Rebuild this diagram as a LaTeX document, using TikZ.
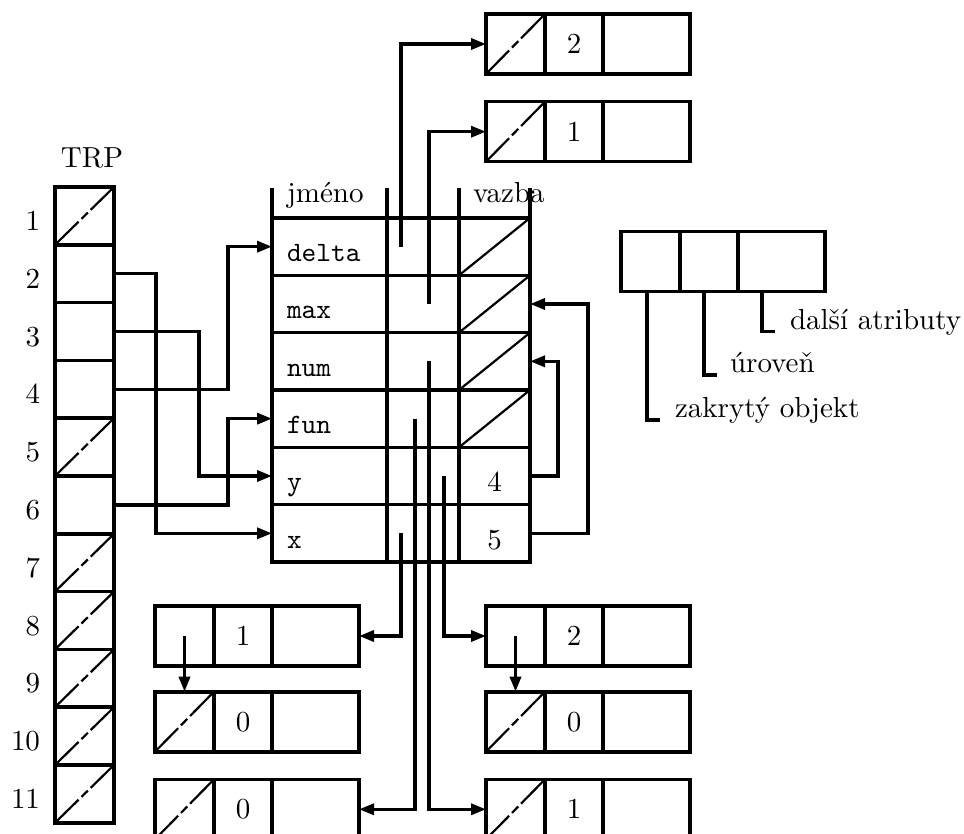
\documentclass[tikz,border=0pt]{standalone}
\usetikzlibrary{arrows.meta,calc}
\newcommand\rmtx[1]{\scalebox{2.9}{\fontsize{10}{12}\selectfont #1}}
\newcommand\tttx[1]{\scalebox{2.8}{\fontsize{10}{12}\selectfont\ttfamily #1}}
\tikzset{
  every node/.style={inner sep=0pt, outer sep=0pt},
  ttlabel/.style={anchor=base west},
  cellbox/.style={draw, line width=3.6pt, inner sep=0pt, outer sep=0pt, anchor=north west, minimum height=60pt},
  cwa/.style={cellbox, minimum width=59pt},
  cwb/.style={cellbox, minimum width=58pt},
  cwc/.style={cellbox, minimum width=87pt},
  trpcell/.style={cellbox, minimum width=59pt, minimum height=57.8pt},
  tca/.style={cellbox, minimum width=115pt, minimum height=57.33pt},
  tcb/.style={cellbox, minimum width=72pt, minimum height=57.33pt},
  tcc/.style={cellbox, minimum width=71pt, minimum height=57.33pt},
  conn/.style={line width=3.3pt, -{Triangle[length=15pt,width=11pt]}},
  plain/.style={line width=3.6pt},
  brokendiag/.style={line width=2.2pt, dash pattern=on 33pt off 4pt on 9pt off 4pt on 40pt},
  soliddiag/.style={line width=2.2pt},
}
\newcommand\recbox[5]{%
  \node[cwa] (#1a) at (#2,#3) {};
  \node[cwb] (#1b) at (#1a.north east) {\rmtx{#5}};
  \node[cwc] (#1c) at (#1b.north east) {};
  \ifnum#4=1 \draw[brokendiag] (#1a.south west) -- (#1a.north east);\fi
}
\begin{document}
\begin{tikzpicture}[x=1pt,y=-1pt]
\useasboundingbox (0,0) rectangle (964,834);

% TRP column
\node[anchor=base] (trplabel) at (92,168) {\rmtx{TRP}};
\foreach \i in {1,...,11} {
  \node[trpcell] (trp\i) at (55,{187+(\i-1)*57.8}) {};
  \node[anchor=base east] (trpn\i) at (40,{187+(\i-1)*57.8+28.9+14.5}) {\rmtx{\i}};
}
\foreach \i in {1,5,7,8,9,10,11}
  \draw[brokendiag] (trp\i.south west) -- (trp\i.north east);

% main table
\foreach \nm [count=\k] in {delta,max,num,fun,y,x} {
  \node[tca] (r\nm) at (272,{218+(\k-1)*57.33}) {};
  \node[tcb] (m\nm) at (r\nm.north east) {};
  \node[tcc] (v\nm) at (m\nm.north east) {};
  \node[ttlabel] (l\nm) at ($(r\nm.west)+(15,15)$) {\tttx{\nm}};
}
\foreach \nm in {delta,max,num,fun}
  \draw[soliddiag] (v\nm.south west) -- (v\nm.north east);
\node[anchor=base] (n4) at ($(vy.center)+(0,16)$) {\rmtx{4}};
\node[anchor=base] (n5) at ($(vx.center)+(0,16)$) {\rmtx{5}};
\draw[plain] (rdelta.north west) -- ++(0,-30);
\draw[plain] (mdelta.north west) -- ++(0,-30);
\draw[plain] (mdelta.north east) -- ++(0,-30);
\draw[plain] (vdelta.north east) -- ++(0,-30);
\node[anchor=base west] (hj) at (287,203) {\rmtx{jméno}};
\node[anchor=base west] (hv) at (473,203) {\rmtx{vazba}};

% record boxes
\recbox{tt}{486}{14}{1}{2}
\recbox{to}{486}{101.7}{1}{1}
\recbox{la}{155}{606}{0}{1}
\recbox{lb}{155}{691.7}{1}{0}
\recbox{lc}{155}{779.3}{1}{0}
\recbox{ra}{486}{606}{0}{2}
\recbox{rb}{486}{691.7}{1}{0}
\recbox{rc}{486}{779.3}{1}{1}

% TRP connectors
\draw[conn] (trp2.east) -- ++(42,0) |- (rx.west);
\draw[conn] (trp3.east) -- ++(85,0) |- (ry.west);
\draw[conn] (trp4.east) -- ++(114,0) |- (rdelta.west);
\draw[conn] (trp6.east) -- ++(114,0) |- (rfun.west);

% connectors from the middle column
\coordinate (sdelta) at ($(mdelta.center)+(-22,0)$);
\coordinate (smax) at ($(mmax.center)+(6,0)$);
\coordinate (snum) at ($(mnum.center)+(6,0)$);
\coordinate (sfun) at ($(mfun.center)+(-8,0)$);
\coordinate (sy) at ($(my.center)+(21,0)$);
\coordinate (sx) at ($(mx.center)+(-22,0)$);
\draw[conn] (sdelta) |- (tta.west);
\draw[conn] (smax) |- (toa.west);
\draw[conn] (snum) |- (rca.west);
\draw[conn] (sfun) |- (lcc.east);
\draw[conn] (sy) |- (raa.west);
\draw[conn] (sx) |- (lac.east);

% vazba links
\draw[conn] (vy.east) -- ++(28,0) |- (vnum.east);
\draw[conn] (vx.east) -- ++(58,0) |- (vmax.east);

% inner links
\draw[conn] (laa.center) -- (laa.center |- lba.north);
\draw[conn] (raa.center) -- (raa.center |- rba.north);

% legend
\recbox{g}{621}{231.7}{0}{}
\coordinate (g1) at ($(ga.south west)+(26,0)$);
\coordinate (g2) at ($(gb.south west)+(24,0)$);
\coordinate (g3) at ($(gc.south west)+(24,0)$);
\draw[plain] (g1) -- ++(0,128) -- ++(13,0);
\draw[plain] (g2) -- ++(0,83.3) -- ++(12.5,0);
\draw[plain] (g3) -- ++(0,40) -- ++(12.7,0);
\node[anchor=base west] (tg1) at (675,417) {\rmtx{zakrytý objekt}};
\node[anchor=base west] (tg2) at (730,373) {\rmtx{úroveň}};
\node[anchor=base west] (tg3) at (790,330) {\rmtx{další atributy}};
\end{tikzpicture}
\end{document}
